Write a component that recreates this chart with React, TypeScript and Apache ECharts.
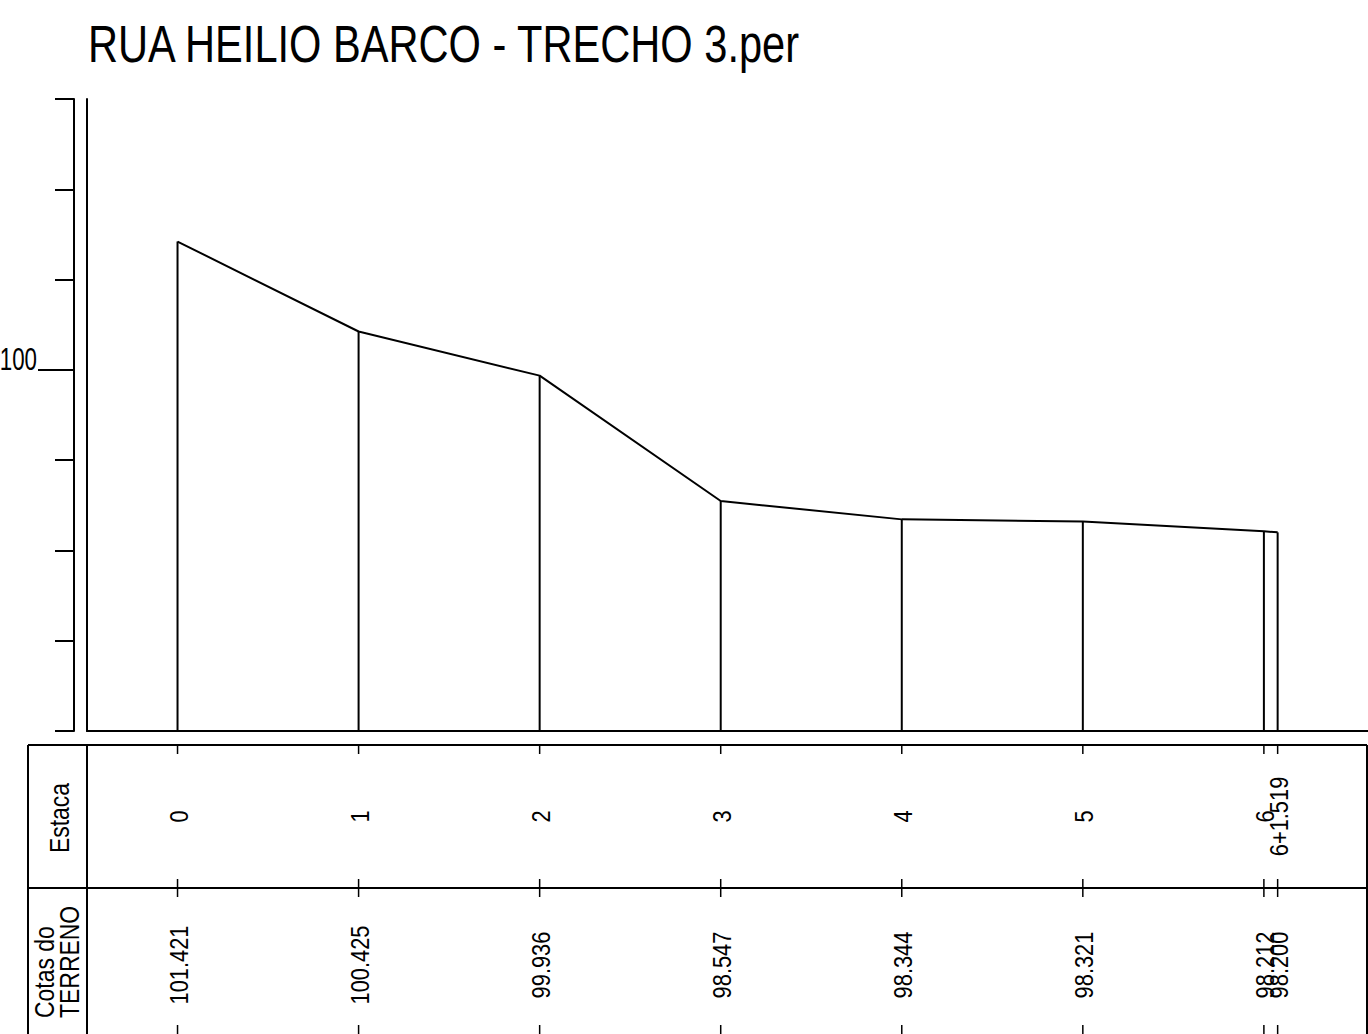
import React, { useEffect, useRef } from "react";
import * as echarts from "echarts";

const TITLE = "RUA HEILIO BARCO - TRECHO 3.per";
const stationLabels = ["0", "1", "2", "3", "4", "5", "6", "6+1.519"];
const distances = [0, 20, 40, 60, 80, 100, 120, 121.519];
const elevations = [101.421, 100.425, 99.936, 98.547, 98.344, 98.321, 98.212, 98.2];
const elevationLabels = ["101.421", "100.425", "99.936", "98.547", "98.344", "98.321", "98.212", "98.200"];
const yMin = 96;
const yMax = 103;
const xMin = -10;
const xMax = 131.5;
const labeledTicks = [100];

const FONT = '"Liberation Sans", Arial, sans-serif';
const BLACK = "#000";

export default function App() {
  const ref = useRef<HTMLDivElement>(null);
  useEffect(() => {
    if (!ref.current) return;
    const chart = echarts.init(ref.current, null, { renderer: "svg" });

    const tableRender = (labels: string[]) => (params: any, api: any) => {
      const cs = params.coordSys;
      const x = api.coord([api.value(0), 0])[0];
      const t = labels[params.dataIndex];
      return {
        type: "group",
        children: [
          { type: "line", shape: { x1: x, y1: cs.y, x2: x, y2: cs.y + 9 }, style: { stroke: BLACK, lineWidth: 1.5 } },
          { type: "line", shape: { x1: x, y1: cs.y + cs.height - 9, x2: x, y2: cs.y + cs.height }, style: { stroke: BLACK, lineWidth: 1.5 } },
          {
            type: "text",
            x: x + 1,
            y: cs.y + cs.height / 2 + (params.seriesIndex === 3 ? 4 : 0),
            rotation: Math.PI / 2,
            scaleX: 0.84,
            style: { text: t, fontSize: 26, fontFamily: FONT, fill: BLACK, align: "center", verticalAlign: "middle" },
          },
        ],
      };
    };

    const baseGraphic: any[] = [
      { id: "title", type: "text", x: 88, y: 18, scaleX: 0.8, style: { text: TITLE, fontSize: 52, fontFamily: FONT, fill: BLACK, verticalAlign: "top" } },
      { id: "b1", type: "line", shape: { x1: 28, y1: 745, x2: 1367, y2: 745 }, style: { stroke: BLACK, lineWidth: 2 } },
      { id: "b2", type: "line", shape: { x1: 28, y1: 888, x2: 1367, y2: 888 }, style: { stroke: BLACK, lineWidth: 2 } },
      { id: "b3", type: "line", shape: { x1: 28, y1: 745, x2: 28, y2: 1034 }, style: { stroke: BLACK, lineWidth: 2 } },
      { id: "b4", type: "line", shape: { x1: 87, y1: 745, x2: 87, y2: 1034 }, style: { stroke: BLACK, lineWidth: 2 } },
      { id: "b5", type: "line", shape: { x1: 1367, y1: 745, x2: 1367, y2: 1034 }, style: { stroke: BLACK, lineWidth: 2 } },
      {
        id: "estaca", type: "text", x: 59, y: 818, rotation: Math.PI / 2, scaleX: 0.82,
        style: { text: "Estaca", fontSize: 28, fontFamily: FONT, fill: BLACK, align: "center", verticalAlign: "middle" },
      },
      {
        id: "cotas", type: "text", x: 57, y: 1018, rotation: Math.PI / 2, scaleX: 0.82,
        style: { text: "Cotas do\nTERRENO", fontSize: 28, lineHeight: 25, fontFamily: FONT, fill: BLACK, align: "left", verticalAlign: "middle" },
      },
    ];

    const option: any = {
      animation: false,
      backgroundColor: "#fff",
      grid: [
        { left: 87, top: 99, width: 1281, height: 632, outerBoundsMode: "none", containLabel: false },
        { left: 87, top: 745, width: 1281, height: 143, outerBoundsMode: "none", containLabel: false },
        { left: 87, top: 888, width: 1281, height: 146, outerBoundsMode: "none", containLabel: false },
      ],
      xAxis: [
        {
          type: "value", gridIndex: 0, min: xMin, max: xMax,
          axisLine: { show: true, onZero: false, lineStyle: { color: BLACK, width: 2 } },
          axisTick: { show: false }, axisLabel: { show: false }, splitLine: { show: false },
        },
        { type: "value", gridIndex: 1, min: xMin, max: xMax, show: false },
        { type: "value", gridIndex: 2, min: xMin, max: xMax, show: false },
      ],
      yAxis: [
        {
          type: "value", gridIndex: 0, min: yMin, max: yMax, interval: 1, position: "left",
          axisLine: { show: true, onZero: false, lineStyle: { color: BLACK, width: 2 } },
          axisTick: { show: false }, axisLabel: { show: false }, splitLine: { show: false },
        },
        {
          type: "value", gridIndex: 0, min: yMin, max: yMax, interval: 1, position: "left", offset: 13,
          axisLine: { show: true, onZero: false, lineStyle: { color: BLACK, width: 2 } },
          axisTick: { show: true, length: 19, lineStyle: { color: BLACK, width: 2 } },
          axisLabel: { show: false }, splitLine: { show: false },
        },
        {
          type: "value", gridIndex: 0, min: yMin, max: yMax, interval: 1, position: "left", offset: 13,
          axisLine: { show: false, onZero: false },
          axisTick: { show: true, length: 36, customValues: labeledTicks, lineStyle: { color: BLACK, width: 2 } },
          axisLabel: { show: false },
          splitLine: { show: false },
        },
        { type: "value", gridIndex: 1, min: 0, max: 1, show: false },
        { type: "value", gridIndex: 2, min: 0, max: 1, show: false },
      ],
      series: [
        {
          type: "line", xAxisIndex: 0, yAxisIndex: 0,
          data: distances.map((d, i) => [d, elevations[i]]),
          symbol: "none", lineStyle: { color: BLACK, width: 2 }, silent: true,
        },
        {
          type: "custom", xAxisIndex: 0, yAxisIndex: 0,
          data: distances.map((d, i) => [d, elevations[i]]),
          renderItem: (params: any, api: any) => {
            const p1 = api.coord([api.value(0), api.value(1)]);
            const p0 = api.coord([api.value(0), yMin]);
            return { type: "line", shape: { x1: p1[0], y1: p1[1], x2: p0[0], y2: p0[1] }, style: { stroke: BLACK, lineWidth: 2 } };
          },
          silent: true,
        },
        {
          type: "custom", xAxisIndex: 1, yAxisIndex: 3,
          data: distances.map((d) => [d, 0]),
          renderItem: tableRender(stationLabels), silent: true,
        },
        {
          type: "custom", xAxisIndex: 2, yAxisIndex: 4,
          data: distances.map((d) => [d, 0]),
          renderItem: tableRender(elevationLabels), silent: true,
        },
      ],
      graphic: baseGraphic,
    };
    chart.setOption(option);

    // y-axis tick label(s), positioned through the axis scale
    const tickLabels = labeledTicks.map((v, i) => {
      const py = chart.convertToPixel({ yAxisIndex: 0 } as any, v) as number;
      return {
        id: "ytl" + i, type: "text", x: 37, y: py + 5, scaleX: 0.72,
        style: { text: String(v), fontSize: 31, fontFamily: FONT, fill: BLACK, align: "right", verticalAlign: "bottom" },
      };
    });
    chart.setOption({ graphic: [...baseGraphic, ...tickLabels] });

    return () => chart.dispose();
  }, []);
  return <div ref={ref} style={{ position: "fixed", left: 0, top: 0, width: 1368, height: 1034 }} />;
}
